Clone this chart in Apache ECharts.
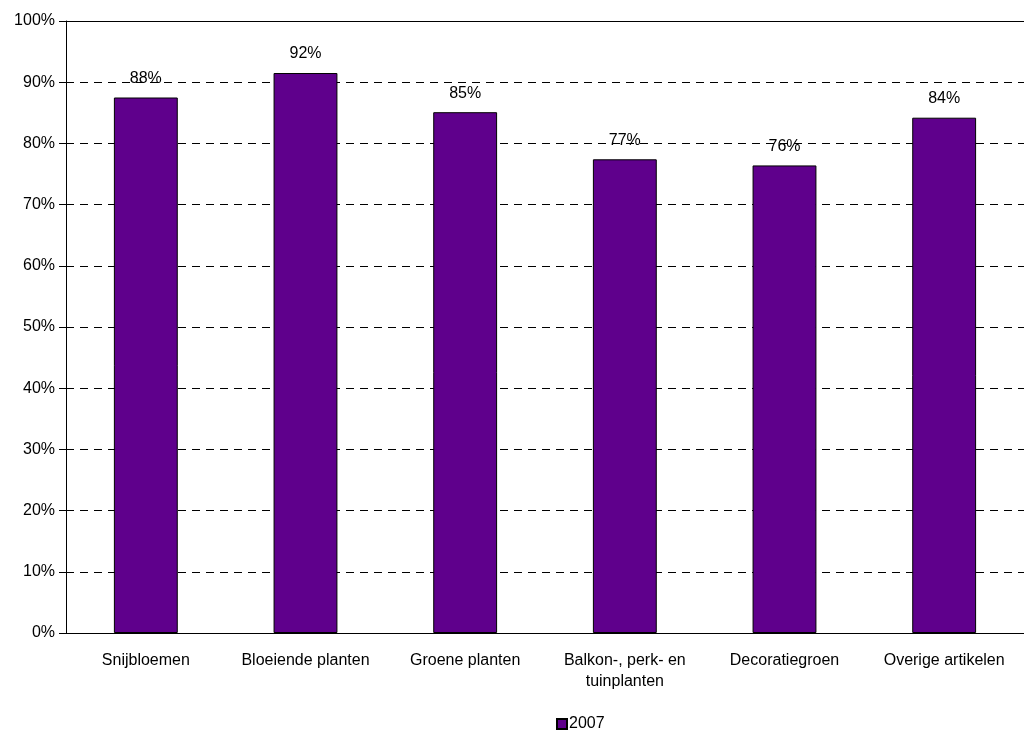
<!DOCTYPE html>
<html>
<head>
<meta charset="utf-8">
<script src="https://cdn.jsdelivr.net/npm/echarts@6/dist/echarts.min.js"></script>
<style>
html,body{margin:0;padding:0;background:#fff;}
#chart{width:1024px;height:731px;}
</style>
</head>
<body>
<div id="chart"></div>
<script>
var categories = ["Snijbloemen", "Bloeiende planten", "Groene planten", "Balkon-, perk- en tuinplanten", "Decoratiegroen", "Overige artikelen"];
var values2007 = [87.5, 91.5, 85.1, 77.4, 76.4, 84.2];
var yTicks = [0, 10, 20, 30, 40, 50, 60, 70, 80, 90, 100];
var seriesName = "2007";

var chart = echarts.init(document.getElementById('chart'));
var font = "'Liberation Sans', Arial, sans-serif";
chart.setOption({
  animation: false,
  backgroundColor: '#ffffff',
  grid: {left: 66, right: 0, top: 21, bottom: 98, show: false},
  legend: {
    top: 711, left: 551,
    itemWidth: 10, itemHeight: 10, itemGap: 4,
    icon: 'rect',
    textStyle: {fontFamily: font, fontSize: 16, color: '#000', padding: [0,0,0,-3]},
    data: [seriesName]
  },
  xAxis: [{
    type: 'category',
    data: categories,
    axisLine: {show: true, lineStyle: {color: '#000', width: 1}},
    axisTick: {show: false},
    axisLabel: {
      interval: 0, margin: 17, color: '#000', fontFamily: font, fontSize: 16, lineHeight: 21,
      formatter: function (v) { return v.replace('perk- en ', 'perk- en\n'); }
    }
  }, {
    type: 'category',
    position: 'top',
    data: categories,
    axisLine: {show: true, onZero: false, lineStyle: {color: '#000', width: 1}},
    axisTick: {show: false},
    axisLabel: {show: false},
    splitLine: {show: false}
  }],
  yAxis: {
    type: 'value', min: yTicks[0], max: yTicks[yTicks.length - 1], interval: 10,
    axisLine: {show: true, lineStyle: {color: '#000', width: 1}},
    axisTick: {show: true, length: 7, lineStyle: {color: '#000'}},
    axisLabel: {margin: 11, color: '#000', fontFamily: font, fontSize: 16, formatter: '{value}%'},
    splitLine: {show: true, lineStyle: {color: '#000', width: 1, type: [8, 6]}}
  },
  series: [{
    name: seriesName,
    type: 'bar',
    data: values2007,
    barWidth: '40%',
    itemStyle: {color: '#5f008c', borderColor: '#000', borderWidth: 1},
    label: {
      show: true, position: 'top', distance: 11, color: '#000', fontFamily: font, fontSize: 16,
      formatter: function (p) { return Math.round(p.value) + '%'; }
    }
  }]
});
</script>
</body>
</html>
